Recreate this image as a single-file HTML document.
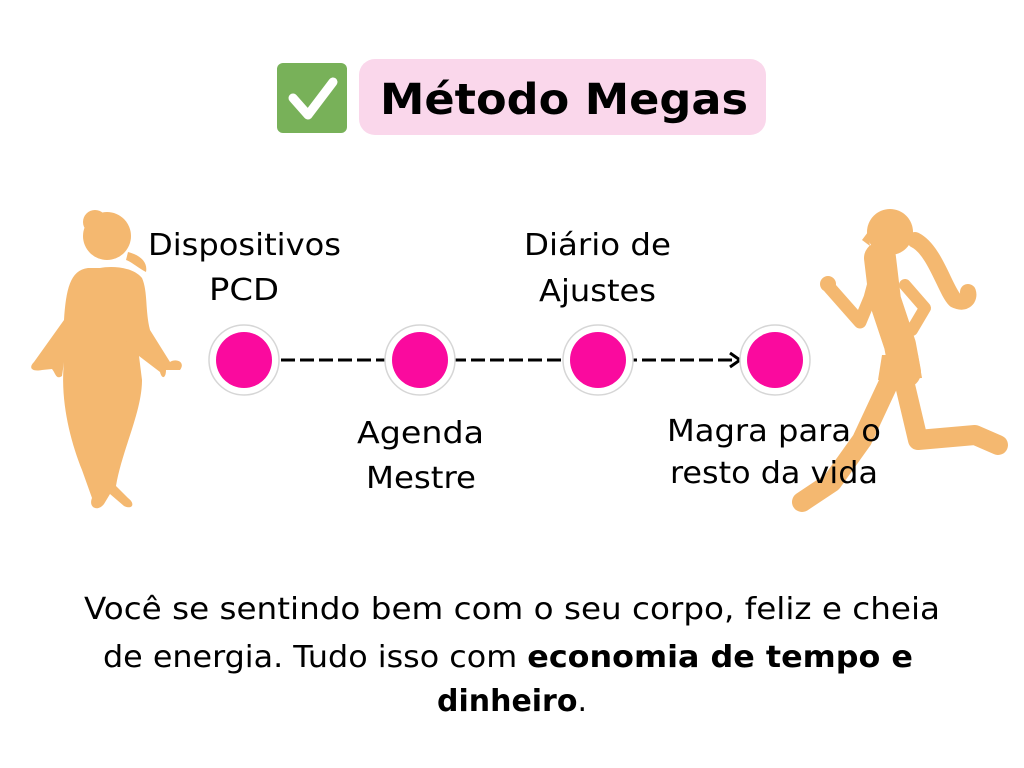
<!DOCTYPE html>
<html><head><meta charset="utf-8"><style>
html,body{margin:0;padding:0;background:#fff;}
svg{display:block}
text{font-family:"DejaVu Sans","Liberation Sans",sans-serif;fill:#000}
</style></head><body>
<svg width="1024" height="768" viewBox="0 0 1024 768" xmlns="http://www.w3.org/2000/svg">
<rect width="1024" height="768" fill="#fff"/>
<!-- title -->
<rect x="277" y="63" width="70" height="70" rx="6" fill="#78B159"/>
<polyline points="293,98 308,115 333,82" fill="none" stroke="#fff" stroke-width="9" stroke-linecap="round" stroke-linejoin="round"/>
<rect x="359" y="59" width="407" height="76" rx="16" fill="#FAD7EB"/>
<text x="380" y="114" font-size="43" font-weight="bold" textLength="368" lengthAdjust="spacingAndGlyphs">Método Megas</text>

<!-- left figure -->
<g fill="#F4B870">
<circle cx="107" cy="236" r="24"/>
<circle cx="95" cy="222" r="12"/>
<path d="M128,252 C140,255 148,262 146,272 C138,268 132,262 126,260 Z"/>
<path d="M88,268 C70,270 66,290 64,320 L34,362 C28,368 32,372 42,370 L52,369 C56,374 56,380 62,376 L64,362 C60,400 70,440 82,470 L92,498 C88,508 98,512 104,504 L110,494 L124,506 C132,510 136,504 128,498 L116,486 C122,450 142,412 142,380 L139,356 L160,372 C162,380 166,378 166,370 L180,370 C186,362 176,358 170,362 L150,330 C145,310 148,292 142,278 C132,266 110,266 100,268 Z"/>
<ellipse cx="102" cy="380" rx="38" ry="50"/>
</g>

<!-- right runner -->
<g fill="none" stroke="#F4B870" stroke-linecap="round" stroke-linejoin="round">
<polyline points="880,258 885,300 900,345 905,372" stroke-width="32"/>
<polyline points="878,268 870,298 860,322 830,288" stroke-width="13"/>
<polyline points="905,285 925,308 912,330" stroke-width="12"/>
<polyline points="890,380 862,440 832,482 802,502" stroke-width="20"/>
<polyline points="905,385 918,440 975,435 998,445" stroke-width="20"/>
<path d="M915,240 C935,250 945,290 955,300 C965,305 970,298 968,292" stroke-width="16"/>
</g>
<g fill="#F4B870">
<circle cx="890" cy="232" r="23"/>
<path d="M868,232 L862,240 L870,246 Z"/>
<path d="M882,355 L918,355 L922,378 L878,380 Z"/>
<ellipse cx="828" cy="284" rx="8" ry="8"/>
</g>

<!-- connectors -->
<line x1="281" y1="360" x2="738" y2="360" stroke="#000" stroke-width="3" stroke-dasharray="14,5"/>
<polyline points="730,353 740,360 730,367" fill="none" stroke="#000" stroke-width="3"/>

<!-- nodes -->
<g stroke="#d6d6d6" stroke-width="1.5" fill="#fff">
<circle cx="244" cy="360" r="35"/>
<circle cx="420" cy="360" r="35"/>
<circle cx="598" cy="360" r="35"/>
<circle cx="775" cy="360" r="35"/>
</g>
<g fill="#FA0A9E">
<circle cx="244" cy="360" r="28"/>
<circle cx="420" cy="360" r="28"/>
<circle cx="598" cy="360" r="28"/>
<circle cx="775" cy="360" r="28"/>
</g>

<!-- labels -->
<g font-size="30">
<text x="148" y="255" textLength="193" lengthAdjust="spacingAndGlyphs">Dispositivos</text>
<text x="209" y="300" textLength="70" lengthAdjust="spacingAndGlyphs">PCD</text>
<text x="524" y="255" textLength="147" lengthAdjust="spacingAndGlyphs">Diário de</text>
<text x="539" y="301" textLength="117" lengthAdjust="spacingAndGlyphs">Ajustes</text>
<text x="357" y="443" textLength="127" lengthAdjust="spacingAndGlyphs">Agenda</text>
<text x="366" y="488" textLength="110" lengthAdjust="spacingAndGlyphs">Mestre</text>
<text x="667" y="441" textLength="214" lengthAdjust="spacingAndGlyphs">Magra para o</text>
<text x="670" y="483" textLength="208" lengthAdjust="spacingAndGlyphs">resto da vida</text>
</g>

<!-- bottom text -->
<g font-size="30">
<text x="84" y="619" textLength="856" lengthAdjust="spacingAndGlyphs">Você se sentindo bem com o seu corpo, feliz e cheia</text>
<text x="103" y="667" textLength="810" lengthAdjust="spacingAndGlyphs">de energia. Tudo isso com <tspan font-weight="bold">economia de tempo e</tspan></text>
<text x="437" y="711" textLength="150" lengthAdjust="spacingAndGlyphs"><tspan font-weight="bold">dinheiro</tspan>.</text>
</g>
</svg>
</body></html>
